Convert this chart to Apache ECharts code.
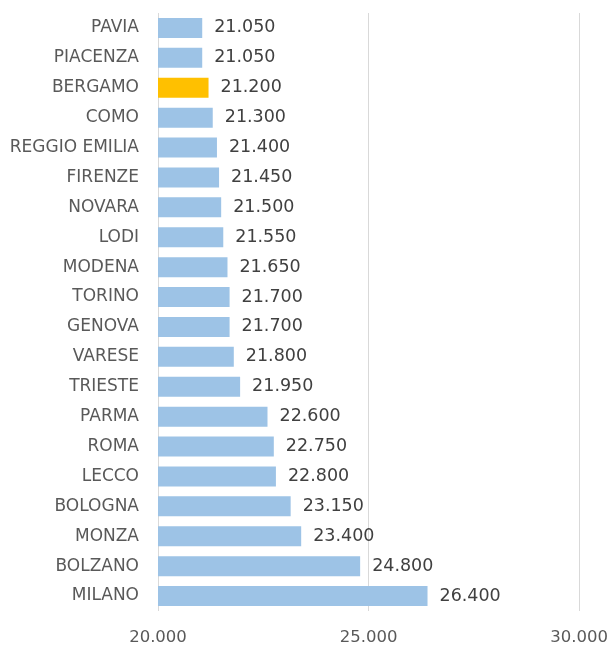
<!DOCTYPE html>
<html><head><meta charset="utf-8">
<script src="https://cdn.jsdelivr.net/npm/echarts@6/dist/echarts.min.js"></script>
<style>html,body{margin:0;padding:0;background:#fff}#c{width:611px;height:646px}</style>
</head><body><div id="c"></div>
<script>
const cities = ["PAVIA","PIACENZA","BERGAMO","COMO","REGGIO EMILIA","FIRENZE","NOVARA","LODI","MODENA","TORINO","GENOVA","VARESE","TRIESTE","PARMA","ROMA","LECCO","BOLOGNA","MONZA","BOLZANO","MILANO"];
const values = [21050,21050,21200,21300,21400,21450,21500,21550,21650,21700,21700,21800,21950,22600,22750,22800,23150,23400,24800,26400];
const highlight = "BERGAMO";
const axisTicks = [20000,25000,30000];

function fmt(v){ return String(v).replace(/\B(?=(\d{3})+(?!\d))/g, "."); }

const chart = echarts.init(document.getElementById('c'), null, {renderer:'canvas'});
chart.setOption({
  animation:false,
  grid:{left:158,right:31,top:13,bottom:34,containLabel:false},
  xAxis:{type:'value',min:axisTicks[0],max:axisTicks[axisTicks.length-1],interval:5000,
    axisLine:{show:false},axisTick:{show:false},
    splitLine:{show:true,lineStyle:{color:'#d9d9d9',width:1}},
    axisLabel:{formatter:fmt,color:'#595959',fontFamily:'DejaVu Sans',fontSize:16.5,margin:18}},
  yAxis:{type:'category',data:cities,inverse:true,
    axisLine:{show:false},axisTick:{show:false},
    axisLabel:{color:'#595959',fontFamily:'DejaVu Sans',fontSize:17,margin:19}},
  series:[{type:'bar',barWidth:20,
    data:values.map((v,i)=>({value:v,itemStyle:{color:cities[i]===highlight?'#FFC000':'#9DC3E6'}})),
    label:{show:true,position:'right',distance:12,formatter:p=>fmt(p.value),color:'#404040',fontFamily:'DejaVu Sans',fontSize:17.5}}]
});
</script></body></html>
